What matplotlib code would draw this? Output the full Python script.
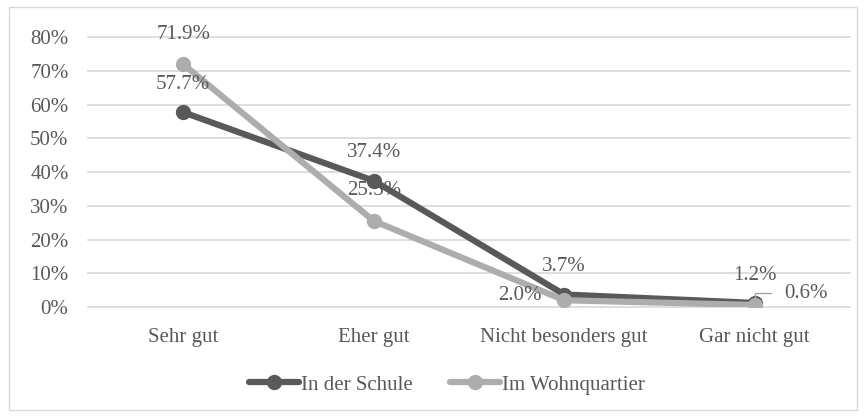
import matplotlib
matplotlib.use("Agg")
import matplotlib.pyplot as plt
from matplotlib.patches import Rectangle

categories = ["Sehr gut", "Eher gut", "Nicht besonders gut", "Gar nicht gut"]
schule = [57.7, 37.4, 3.7, 1.2]
wohn = [71.9, 25.5, 2.0, 0.6]
series_names = ["In der Schule", "Im Wohnquartier"]

plt.rcParams['font.family'] = ['Liberation Serif', 'DejaVu Serif']
txt = '#595959'
dark = '#595959'
light = '#ADADAD'

W, H = 865, 419
fig = plt.figure(figsize=(W/100, H/100), dpi=100)
fig.patches.append(Rectangle((9/W, 1-410/H), 848/W, 403/H, transform=fig.transFigure,
                             fill=False, edgecolor='#D9D9D9', lw=1))
ax = fig.add_axes([88/W, 1-307/H, (850-88)/W, (307-37)/H])
x = list(range(len(categories)))
ax.set_xlim(-0.5, len(categories)-0.5)
ax.set_ylim(0, 80)
ax.set_yticks(range(0, 81, 10))
ax.set_yticklabels([f"{v}%" for v in range(0, 81, 10)])
ax.grid(axis='y', color='#D9D9D9', lw=1.2)
for gl in ax.get_ygridlines():
    gl.set_clip_on(False)
ax.set_axisbelow(True)
for s in ax.spines.values():
    s.set_visible(False)
fs = 15
ax.tick_params(length=0, labelsize=fs, colors=txt)
ax.tick_params(axis='y', pad=14)
ax.tick_params(axis='x', pad=15)
ax.set_xticks(x)
ax.set_xticklabels(categories)

ax.plot(x, schule, color=dark, lw=4.5, marker='o', ms=10, label=series_names[0], zorder=3, solid_capstyle='round')
ax.plot(x, wohn, color=light, lw=4.5, marker='o', ms=10, label=series_names[1], zorder=4, solid_capstyle='round')

# Schule labels above
for i, v in enumerate(schule):
    ax.annotate(f"{v:.1f}%", (i, v), xytext=(0, 20), textcoords='offset points',
                ha='center', va='center', fontsize=fs, color=txt, zorder=5)
# Wohn labels
offs = [(0, 21.5), (0, 22), (-32, 3.5), (37, 8.5)]
for i, v in enumerate(wohn):
    ax.annotate(f"{v:.1f}%", (i, v), xytext=offs[i], textcoords='offset points',
                ha='center', va='center', fontsize=fs, color=txt, zorder=5)
# leader line for 0.6%
ax.annotate("", (3, wohn[3]), xytext=(12, 8.5), textcoords='offset points',
            arrowprops=dict(arrowstyle='-', color='#A6A6A6', lw=1,
                            connectionstyle='angle,angleA=0,angleB=90,rad=0',
                            shrinkA=0, shrinkB=0))

leg = fig.legend(loc='center', bbox_to_anchor=(447/W, 1-385/H), ncol=2, frameon=False,
                 fontsize=fs, labelcolor=txt, handlelength=2.4, handletextpad=0.1,
                 columnspacing=1.8)
fig.savefig("out.png", dpi=100)
